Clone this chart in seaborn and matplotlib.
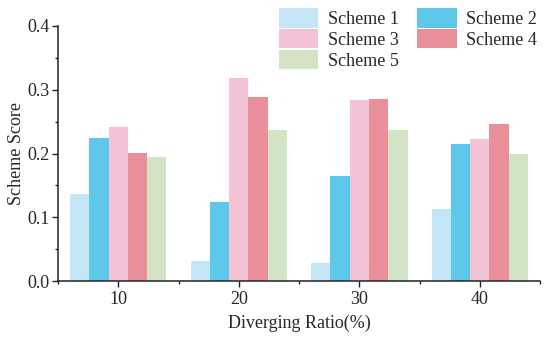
import numpy as np
import pandas as pd
import seaborn as sns
import matplotlib
matplotlib.use('Agg')
import matplotlib.pyplot as plt
from matplotlib.patches import Patch
from matplotlib.ticker import MultipleLocator, FixedLocator

# data
ratios = ['10', '20', '30', '40']
schemes = ['Scheme 1', 'Scheme 2', 'Scheme 3', 'Scheme 4', 'Scheme 5']
scheme1 = [0.136, 0.032, 0.028, 0.113]
scheme2 = [0.224, 0.124, 0.164, 0.215]
scheme3 = [0.242, 0.319, 0.284, 0.222]
scheme4 = [0.201, 0.288, 0.285, 0.246]
scheme5 = [0.195, 0.237, 0.237, 0.199]
colours = ['#c4e6f6', '#5ec8eb', '#f2c3d7', '#e88f9a', '#d2e4c3']

sns.set_style('ticks')
plt.rcParams['font.family'] = ['Liberation Serif', 'DejaVu Serif']

rows = []
for name, vals in zip(schemes, [scheme1, scheme2, scheme3, scheme4, scheme5]):
    for r, v in zip(ratios, vals):
        rows.append({'ratio': r, 'score': v, 'scheme': name})
df = pd.DataFrame(rows)

fig = plt.figure(figsize=(5.5, 3.37), dpi=100, facecolor='w')
ax = fig.add_axes([0.1055, 0.166, 0.8765, 0.757])

sns.barplot(data=df, x='ratio', y='score', hue='scheme', order=ratios, hue_order=schemes,
            palette=colours, saturation=1, width=0.8, linewidth=0, errorbar=None, ax=ax)

ax.set_xlim(-0.5, 3.5)
ax.set_ylim(0, 0.4)
ax.yaxis.set_major_locator(MultipleLocator(0.1))
ax.yaxis.set_minor_locator(MultipleLocator(0.05))
ax.xaxis.set_minor_locator(FixedLocator([-0.5, 0.5, 1.5, 2.5, 3.5]))
ax.yaxis.set_major_formatter(plt.FormatStrFormatter('%.1f'))
ax.tick_params(axis='both', which='major', labelsize=13, length=4, width=1, direction='out', color='#222222')
ax.tick_params(axis='both', which='minor', length=2.5, width=1, direction='out', color='#222222')
ax.tick_params(axis='x', which='major', pad=3)
ax.tick_params(axis='y', which='major', pad=2)

for s in ['top', 'right']:
    ax.spines[s].set_visible(False)
for s in ['left', 'bottom']:
    ax.spines[s].set_linewidth(1.1)
    ax.spines[s].set_color('#222222')

ax.set_xlabel('Diverging Ratio(%)', fontsize=13, labelpad=5)
ax.set_ylabel('Scheme Score', fontsize=13, labelpad=2)

# legend fills column-wise, so reorder to get the row layout
order = [0, 2, 4, 1, 3]
handles = [Patch(facecolor=colours[i], edgecolor='none', label=schemes[i]) for i in order]
ax.legend(handles=handles, ncol=2, loc='upper right', bbox_to_anchor=(1.02, 1.118),
          frameon=False, fontsize=13, handlelength=2.2, handleheight=1.25,
          columnspacing=1.05, labelspacing=0.06, handletextpad=0.5, borderpad=0.2)

plt.savefig('out.png', dpi=100, facecolor='w')
